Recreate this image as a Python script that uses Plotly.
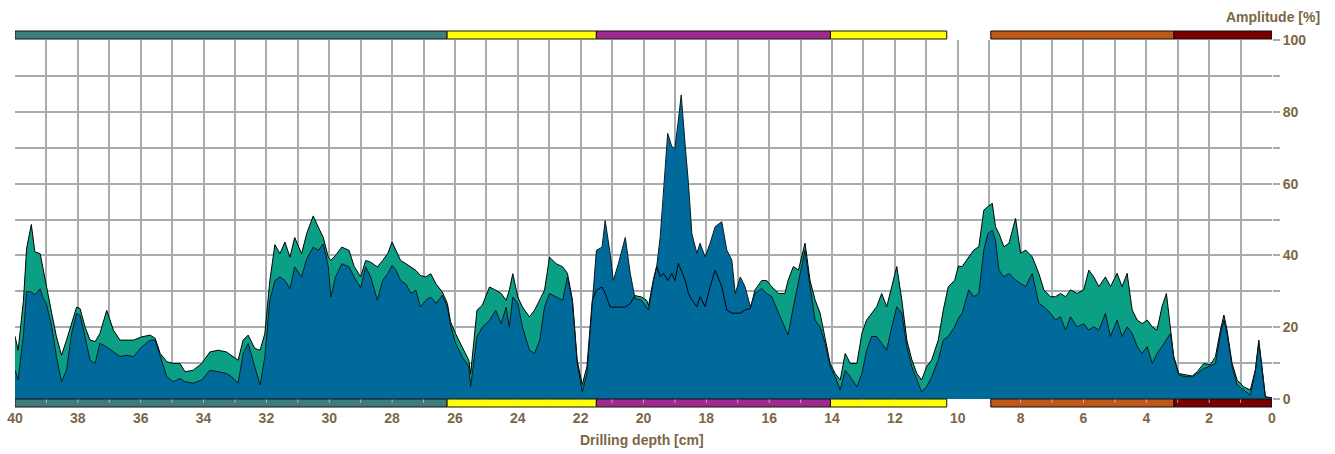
import plotly.graph_objects as go

# ---- data ----
depth = [40.0, 39.9, 39.73, 39.63, 39.48, 39.37, 39.2, 39.1, 39.0, 38.83, 38.68, 38.52, 38.36, 38.2, 38.04,
         37.93, 37.77, 37.61, 37.45, 37.3, 37.08, 36.87, 36.66, 36.45, 36.23, 35.97, 35.7, 35.54, 35.38, 35.17,
         34.96, 34.75, 34.59, 34.33, 34.06, 33.8, 33.53, 33.27, 33.11, 32.9, 32.74, 32.58, 32.37, 32.2, 32.05,
         31.89, 31.73, 31.57, 31.41, 31.25, 31.1, 30.88, 30.72, 30.51, 30.35, 30.19, 30.03, 29.95, 29.8, 29.6,
         29.37, 29.21, 29.0, 28.84, 28.68, 28.47, 28.3, 28.14, 28.0, 27.87, 27.73, 27.56, 27.4, 27.24, 27.1,
         26.93, 26.77, 26.6, 26.4, 26.24, 26.14, 25.98, 25.77, 25.56, 25.5, 25.4, 25.3, 25.13, 24.9, 24.7,
         24.53, 24.37, 24.27, 24.16, 24.0, 23.85, 23.63, 23.47, 23.3, 23.15, 22.99, 22.78, 22.57, 22.42, 22.26,
         22.11, 21.95, 21.8, 21.63, 21.5, 21.32, 21.22, 21.06, 20.96, 20.8, 20.58, 20.42, 20.27, 20.06, 19.9,
         19.84, 19.68, 19.58, 19.47, 19.36, 19.23, 19.1, 19.0, 18.89, 18.8, 18.67, 18.57, 18.46, 18.3, 18.2,
         18.04, 17.88, 17.72, 17.51, 17.35, 17.19, 17.08, 16.92, 16.77, 16.6, 16.45, 16.24, 16.08, 15.92, 15.7,
         15.5, 15.4, 15.23, 15.07, 14.86, 14.7, 14.54, 14.38, 14.22, 14.06, 13.9, 13.74, 13.58, 13.42, 13.21,
         13.05, 12.9, 12.74, 12.58, 12.42, 12.26, 12.1, 11.94, 11.78, 11.62, 11.46, 11.3, 11.15, 10.99, 10.83,
         10.62, 10.46, 10.3, 10.1, 9.98, 9.86, 9.65, 9.49, 9.33, 9.17, 9.04, 8.9, 8.8, 8.69, 8.53,
         8.37, 8.16, 8.0, 7.84, 7.63, 7.42, 7.26, 7.05, 6.89, 6.73, 6.57, 6.41, 6.2, 5.99, 5.83,
         5.67, 5.51, 5.3, 5.14, 4.93, 4.77, 4.61, 4.45, 4.29, 4.13, 3.97, 3.81, 3.66, 3.5, 3.36,
         3.23, 3.13, 2.97, 2.75, 2.54, 2.38, 2.17, 1.96, 1.8, 1.64, 1.53, 1.43, 1.27, 1.11, 0.9,
         0.69, 0.53, 0.42, 0.32, 0.21, 0.0]

feed = [17.5, 13.6, 27.5, 42, 48.6, 41, 40.5, 35.8, 31.7, 23.8, 17.3, 12.2, 16.4, 21, 25.6,
        25.2, 20, 16.4, 16, 18.2, 24.7, 19.2, 16.4, 16.4, 16.4, 17.3, 17.8, 16.9, 12.7, 10.4,
        9.9, 9.9, 7.6, 8, 9.9, 13.1, 13.6, 13.1, 12.2, 10.8, 16.4, 17.8, 14.1, 13.6, 18.2,
        33, 43, 40.5, 43.7, 39.5, 45, 40.5, 46, 51, 47.9, 45, 39.5, 38.6, 40, 42.3,
        41.4, 37, 34, 38.6, 38.1, 36.8, 38.6, 40.5, 43.7, 41.4, 38.6, 37.7, 36.8, 35.8, 34.4,
        34, 34.9, 32, 29.8, 26.6, 21.5, 18.2, 14.5, 10.8, 7.1, 15.5, 24.7, 26.1, 31.2, 30.3,
        29.4, 27.5, 30.3, 34.9, 28.4, 25.6, 22.9, 24.7, 27.5, 30.3, 39.5, 37.7, 36.8, 35, 27.5,
        10.8, 4, 9, 27.5, 30.3, 31.2, 29.4, 25.6, 25.6, 25.6, 25.6, 26.6, 28.8, 28.4, 27.5,
        26, 33.5, 37, 34, 35, 33, 35, 33, 37.8, 35.9, 33, 29.4, 27.6, 25.7, 28.5,
        25.7, 31.3, 35.9, 31.3, 24.8, 23.9, 23.9, 23.9, 24.8, 25.2, 30.4, 33, 33, 31.3, 29.4,
        29.4, 33, 36.9, 35.9, 43.4, 33, 27.6, 23.9, 16.4, 9.9, 7.1, 5.3, 12.7, 9.9, 9.9,
        18.3, 22, 23.9, 25.7, 29.4, 25.7, 31.3, 36.9, 27.6, 16.4, 10.9, 7.1, 5.3, 9, 10.9,
        16.4, 24.8, 31.3, 33, 37, 36.9, 39.6, 41.5, 42.4, 52.6, 53.6, 54.5, 48, 46.1, 42.4,
        43.4, 50.3, 40.6, 41.5, 39.6, 35, 30.4, 28.5, 28.5, 29.4, 28.5, 30.4, 29.4, 30.4, 35.9,
        34, 31.3, 34, 31.3, 35, 31.3, 35, 24.8, 22, 21, 22, 20.1, 19.2, 25.7, 29.4,
        19.2, 12, 7.1, 6.7, 6.4, 7.6, 9.9, 9.5, 11.8, 19.2, 23.4, 19.2, 9.9, 5.3, 3.4,
        2.5, 8.1, 16.4, 9, 0.6, 0.3]

torque = [8, 5.3, 18, 30, 29.8, 29, 30.7, 28, 26.6, 20, 11.8, 4.8, 8, 18.2, 23.8,
          23.3, 17.3, 10.8, 9.9, 15.5, 14.5, 13.1, 11.8, 12.2, 11.8, 14.5, 16.4, 16.4, 11.8, 6.2,
          4.8, 5.7, 4.8, 4.4, 5.3, 8, 7.6, 7.1, 6.2, 4.4, 12.7, 15.5, 9, 3.9, 11.8,
          27.5, 33, 34, 33, 30.7, 36.8, 34, 39, 42.3, 41.4, 43.2, 36.8, 28.4, 34, 37.7,
          36.8, 34, 31, 36.8, 34, 27.5, 33, 34.9, 37.2, 35.8, 33, 32, 29.4, 30.3, 25.6,
          27.5, 28.4, 26.6, 28.9, 25.6, 20.5, 15.5, 11.8, 9, 3.4, 10.8, 17.3, 20, 21.9, 24.7,
          21, 25.6, 20, 28.4, 26.6, 20, 13.6, 12.7, 16.4, 25.6, 29.4, 28.4, 27.5, 34, 27,
          9.9, 2, 7.1, 27, 41.4, 42.3, 49.7, 40.5, 33, 37.7, 45, 34.9, 28, 27.5, 25.6,
          24.8, 33, 36.9, 45, 57.3, 74, 70.3, 69.8, 77.7, 84.7, 70.3, 60, 46, 40.6, 43.4,
          39.6, 43.4, 48, 49.4, 41.5, 38.7, 29.4, 34, 31.3, 25.7, 29.4, 30.8, 29.4, 28.5, 23.9,
          20.1, 17.8, 25.7, 33, 41.5, 31.3, 22, 20.1, 15.5, 9, 6.2, 2.5, 8, 6.2, 3.4,
          7.1, 13.6, 17.4, 17.4, 15.5, 13.6, 20.1, 25.7, 23.9, 14.6, 9, 5.3, 2, 3.4, 6.2,
          10.9, 16.4, 17.4, 20.1, 22.5, 23.9, 30.4, 28.5, 29.4, 41.5, 46.1, 47, 44.3, 35.9, 34,
          35, 33.1, 32.2, 31.3, 35, 26.6, 25.7, 23.9, 22, 22.9, 19.2, 22.9, 20.1, 21, 19.2,
          20.1, 19.2, 23.9, 17.4, 22, 17.4, 20.1, 18.3, 14.6, 12.7, 14.6, 9.9, 12.7, 14.6, 16.4,
          18.3, 11.8, 6.7, 6.2, 6.2, 7.1, 8.5, 9.2, 9.9, 18.3, 22, 18.3, 9, 3.9, 2.5,
          1.1, 7.8, 15.5, 8.8, 0.6, 0.3]

# colour bands: (start depth, end depth, colour)
band_start = [40.0, 26.25, 21.5, 14.05, 8.95, 3.12]
band_end = [26.25, 21.5, 14.05, 10.35, 3.12, 0.0]
band_color = ["#3E7D7B", "#FFFF00", "#A0298F", "#FFFF00", "#C1561B", "#7A0000"]

x_ticks = list(range(0, 41, 2))
y_ticks = list(range(0, 101, 20))

TXT = "#7C6646"
GRID = "#A7ACAF"
FONT = "Liberation Sans"
FS = 14

fig = go.Figure()
fig.add_trace(go.Scatter(x=depth, y=feed, mode="none", fill="tozeroy",
                         fillcolor="#0BA085", hoverinfo="skip"))
fig.add_trace(go.Scatter(x=depth, y=torque, mode="none", fill="tozeroy",
                         fillcolor="#006A9A", hoverinfo="skip"))
fig.add_trace(go.Scatter(x=depth, y=feed, mode="lines",
                         line=dict(color="#000000", width=1), hoverinfo="skip"))
fig.add_trace(go.Scatter(x=depth, y=torque, mode="lines",
                         line=dict(color="#0A1A22", width=1), hoverinfo="skip"))

PH = 454 - 40 - 55
shapes = []
for s, e, c in zip(band_start, band_end, band_color):
    shapes.append(dict(type="rect", xref="x", yref="paper", x0=s, x1=e,
                       y0=1 + 1 / PH, y1=1 + 9 / PH, fillcolor=c,
                       line=dict(color="#111111", width=1), layer="above"))
    shapes.append(dict(type="rect", xref="x", yref="paper", x0=s, x1=e,
                       y0=-8 / PH, y1=0, fillcolor=c,
                       line=dict(color="#111111", width=1), layer="above"))
    d = int(s) - (1 if s == int(s) else 0)
    while d > e:
        shapes.append(dict(type="line", xref="x", yref="paper", x0=d, x1=d,
                           y0=-0.5 / PH, y1=-4 / PH,
                           line=dict(color="rgba(215,215,215,0.7)", width=1), layer="above"))
        d -= 1

fig.update_layout(
    width=1335, height=454,
    margin=dict(l=15, r=63, t=40, b=55, autoexpand=False),
    plot_bgcolor="white", paper_bgcolor="white",
    showlegend=False,
    shapes=shapes,
    xaxis=dict(range=[40, 0], tickvals=x_ticks, ticktext=[str(v) for v in x_ticks],
               automargin=False,
               showgrid=True, gridcolor=GRID, gridwidth=1.5,
               minor=dict(dtick=1, tick0=0, showgrid=True, gridcolor=GRID, gridwidth=1.5),
               zeroline=False, ticks="", ticklabelstandoff=9,
               tickfont=dict(family=FONT, size=FS, color=TXT, weight="bold")),
    yaxis=dict(range=[0, 100], side="right", tickvals=y_ticks, automargin=False,
               showgrid=True, gridcolor=GRID, gridwidth=1.5, zeroline=False,
               ticks="outside", ticklen=7, tickcolor=GRID, tickwidth=1.5,
               minor=dict(dtick=10, tick0=0, showgrid=True, gridcolor=GRID, gridwidth=1.5,
                          ticks="outside", ticklen=7, tickcolor=GRID, tickwidth=1.5),
               tickfont=dict(family=FONT, size=FS, color=TXT, weight="bold")),
    annotations=[
        dict(text="Amplitude [%]", xref="paper", yref="paper",
             x=(1322 - 15) / 1257, y=1 + (40 - 17) / PH, xanchor="right", yanchor="middle",
             showarrow=False, font=dict(family=FONT, size=FS, color=TXT, weight="bold")),
        dict(text="Drilling depth [cm]", xref="paper", yref="paper",
             x=(642 - 15) / 1257, y=-(440 - 399) / PH, xanchor="center", yanchor="middle",
             showarrow=False, font=dict(family=FONT, size=FS, color=TXT, weight="bold")),
    ],
)

fig.write_html("out.html")
